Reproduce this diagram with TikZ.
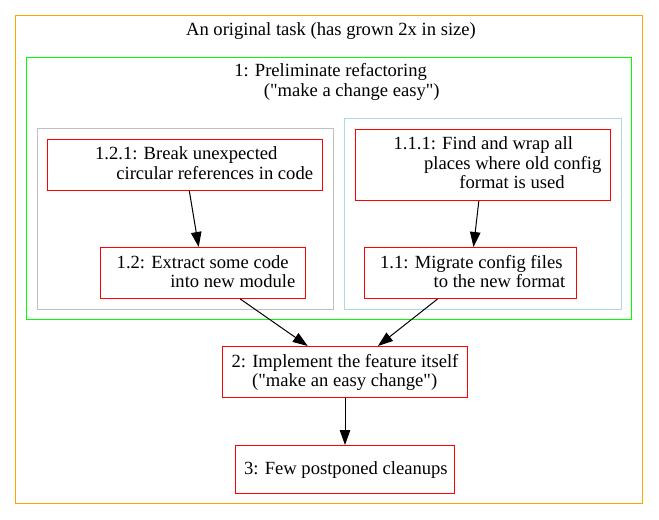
\documentclass[tikz,border=0pt]{standalone}
\usepackage{fontspec}
\setmainfont{Liberation Serif}
\usetikzlibrary{calc}
\usetikzlibrary{arrows.meta}

\definecolor{gvorange}{RGB}{255,165,0}
\definecolor{gvgreen}{RGB}{0,255,0}
\definecolor{gvgray}{RGB}{192,192,192}
\definecolor{gvblue}{RGB}{173,216,230}
\definecolor{gvred}{RGB}{255,0,0}

\begin{document}
\begin{tikzpicture}[x=1bp,y=-1bp,
  grp/.style={line width=1bp},
  task/.style={draw=gvred,line width=1bp,inner sep=0pt,rectangle},
  txt/.style={anchor=base,inner sep=0pt,font=\fontsize{18.67}{20}\selectfont},
  dep/.style={-{Triangle[length=15bp,width=10.5bp]},line width=1bp,black}]

\useasboundingbox (0,0) rectangle (659,520);

\draw[grp,gvorange] (15.5,15.5) rectangle (642.5,503.5);
\draw[grp,gvgreen] (26.5,57.5) rectangle (631.5,319.5);
\draw[grp,gvgray] (37.5,128.5) rectangle (333.5,309.5);
\draw[grp,gvblue] (344.5,118.5) rectangle (621.5,309.5);

\node[txt] (orig) at (331,36) {An original task (has grown 2x in size)};
\node[txt] (pre1) at (330.6,77) {1: Preliminate refactoring};
\node[txt] (pre2) at (351.7,96.7) {(\textquotedbl make a change easy\textquotedbl)};

\node[task,minimum width=275bp,minimum height=51bp] (brk) at (185,165) {};
\node[task,minimum width=205bp,minimum height=51bp] (ext) at (203,273) {};
\node[task,minimum width=255bp,minimum height=71bp] (fnd) at (483,165) {};
\node[task,minimum width=212bp,minimum height=51bp] (mig) at (470.5,273) {};
\node[task,minimum width=245bp,minimum height=51bp] (impl) at (345,372) {};
\node[task,minimum width=219bp,minimum height=48bp] (clean) at (345,469.5) {};

\node[txt] (brk1) at (186.3,160) {1.2.1: Break unexpected};
\node[txt] (brk2) at (214.7,180) {circular references in code};
\node[txt] (ext1) at (202.7,268.3) {1.2: Extract some code};
\node[txt] (ext2) at (232.8,287.3) {into new module};
\node[txt] (fnd1) at (483.3,149.3) {1.1.1: Find and wrap all};
\node[txt] (fnd2) at (512.7,169.3) {places where old config};
\node[txt] (fnd3) at (512,188.3) {format is used};
\node[txt] (mig1) at (471.3,268.3) {1.1: Migrate config files};
\node[txt] (mig2) at (499.5,287.3) {to the new format};
\node[txt] (impl1) at (345,367.3) {2: Implement the feature itself};
\node[txt] (impl2) at (344.7,386.7) {(\textquotedbl make an easy change\textquotedbl)};
\node[txt] (clean1) at (345.9,474) {3: Few postponed cleanups};

\draw[dep] (brk) -- (ext);
\draw[dep] (fnd) -- (mig);
\draw[dep] (ext) -- (impl);
\draw[dep] (mig) -- (impl);
\draw[dep] (impl) -- (clean);

\end{tikzpicture}
\end{document}
